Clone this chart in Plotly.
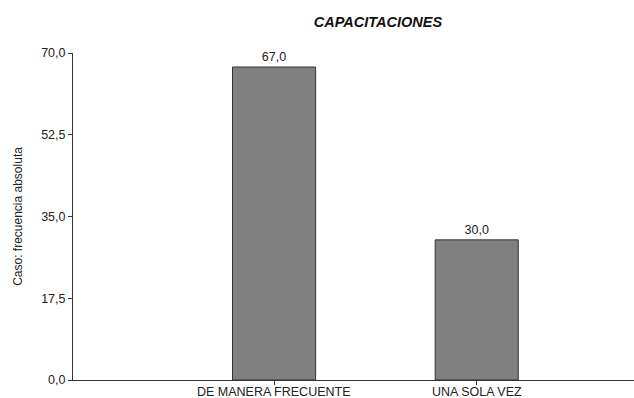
import plotly.graph_objects as go

categories = ["DE MANERA FRECUENTE", "UNA SOLA VEZ"]
values = [67.0, 30.0]
y_ticks = [0, 17.5, 35, 52.5, 70]
y_tick_labels = ["0,0", "17,5", "35,0", "52,5", "70,0"]
value_labels = [f"{v:.1f}".replace(".", ",") for v in values]

font_family = "Liberation Sans, Arial, sans-serif"

fig = go.Figure(
    go.Bar(
        x=categories,
        y=values,
        width=0.41,
        marker=dict(color="#808080", line=dict(color="#333333", width=1)),
        text=value_labels,
        textposition="outside",
        textfont=dict(family=font_family, size=12.5, color="#222222"),
        cliponaxis=False,
    )
)

for cat in categories:
    fig.add_annotation(
        x=cat,
        y=0,
        xref="x",
        yref="y",
        text=cat,
        showarrow=False,
        yanchor="top",
        yshift=-4,
        borderpad=0,
        font=dict(family=font_family, size=12.5, color="#222222"),
    )

fig.update_layout(
    width=634,
    height=398,
    margin=dict(l=73, r=0, t=53, b=18),
    paper_bgcolor="white",
    plot_bgcolor="white",
    showlegend=False,
    font=dict(family=font_family, size=12.5, color="#222222"),
    title=dict(
        text="<b><i>CAPACITACIONES</i></b>",
        x=378 / 634,
        xanchor="center",
        y=1 - 22 / 398,
        yanchor="middle",
        font=dict(family=font_family, size=14.5, color="#111111"),
    ),
    xaxis=dict(
        type="category",
        range=[-0.992, 1.776],
        automargin=False,
        showline=True,
        linecolor="#333333",
        linewidth=1,
        ticks="outside",
        ticklen=4,
        tickcolor="#333333",
        showgrid=False,
        zeroline=False,
        showticklabels=False,
    ),
    yaxis=dict(
        range=[0, 70],
        tickvals=y_ticks,
        ticktext=y_tick_labels,
        automargin=False,
        showline=True,
        linecolor="#333333",
        linewidth=1,
        ticks="outside",
        ticklen=4,
        tickcolor="#333333",
        showgrid=False,
        zeroline=False,
        tickfont=dict(family=font_family, size=12.5, color="#222222"),
        title=dict(
            text="Caso: frecuencia absoluta",
            font=dict(family=font_family, size=12, color="#222222"),
        ),
    ),
)

fig.write_html("out.html")
